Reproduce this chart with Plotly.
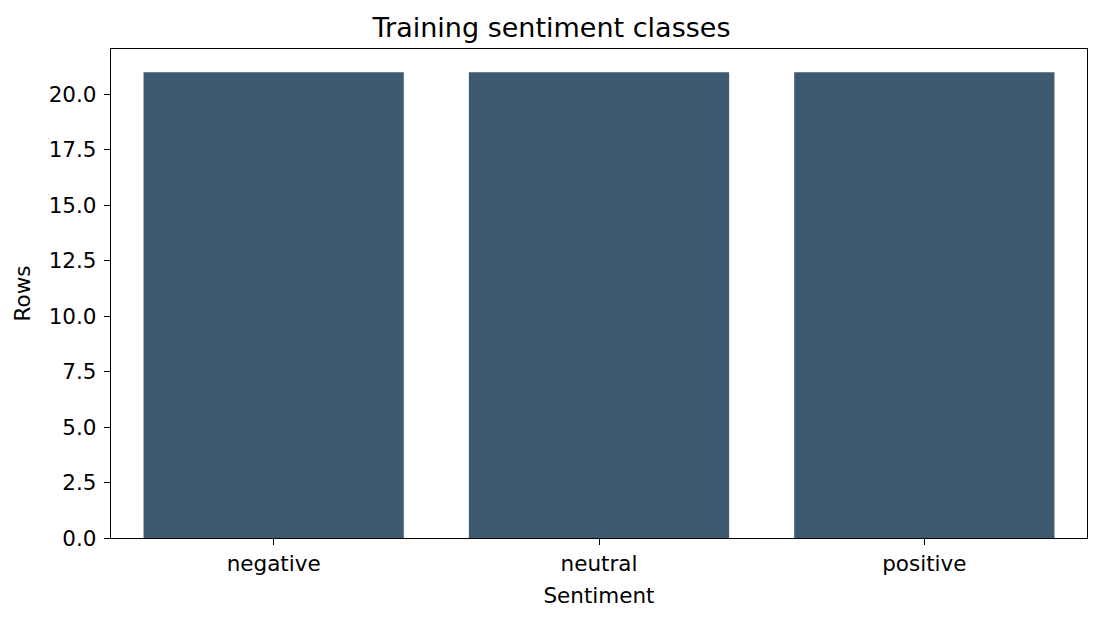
import plotly.graph_objects as go

sentiments = ["negative", "neutral", "positive"]
row_counts = [21, 21, 21]
y_ticks = [0.0, 2.5, 5.0, 7.5, 10.0, 12.5, 15.0, 17.5, 20.0]
y_tick_labels = ["0.0", "2.5", "5.0", "7.5", "10.0", "12.5", "15.0", "17.5", "20.0"]

fig = go.Figure()
fig.add_trace(go.Bar(
    x=sentiments,
    y=row_counts,
    marker=dict(color="#3d5a70", line=dict(width=0)),
    width=0.8,
))

axis_common = dict(
    showline=True,
    linecolor="black",
    linewidth=1.3,
    mirror=True,
    ticks="outside",
    ticklen=6,
    tickwidth=1.3,
    tickcolor="black",
    showgrid=False,
    zeroline=False,
    automargin=False,
    tickfont=dict(size=21.5, color="black"),
)

# page body has an 8px margin, so the figure is shrunk and shifted to compensate
fig.update_layout(
    width=1087,
    height=607,
    template="plotly_white",
    paper_bgcolor="white",
    plot_bgcolor="white",
    font=dict(family="DejaVu Sans", color="black"),
    title=dict(
        text="Training sentiment classes",
        x=0.5,
        xanchor="center",
        y=1 - 20 / 607,
        yanchor="middle",
        font=dict(size=27, color="black"),
    ),
    margin=dict(l=103, r=8, t=41, b=77),
    showlegend=False,
    xaxis=dict(
        title=dict(text="Sentiment", font=dict(size=21.5), standoff=12),
        range=[-0.5, 2.5],
        **axis_common,
    ),
    yaxis=dict(
        title=dict(text="Rows", font=dict(size=21.5), standoff=12),
        range=[0, 22.05],
        tickvals=y_ticks,
        ticktext=y_tick_labels,
        ticklabelstandoff=3,
        **axis_common,
    ),
)

fig.write_html("out.html")
